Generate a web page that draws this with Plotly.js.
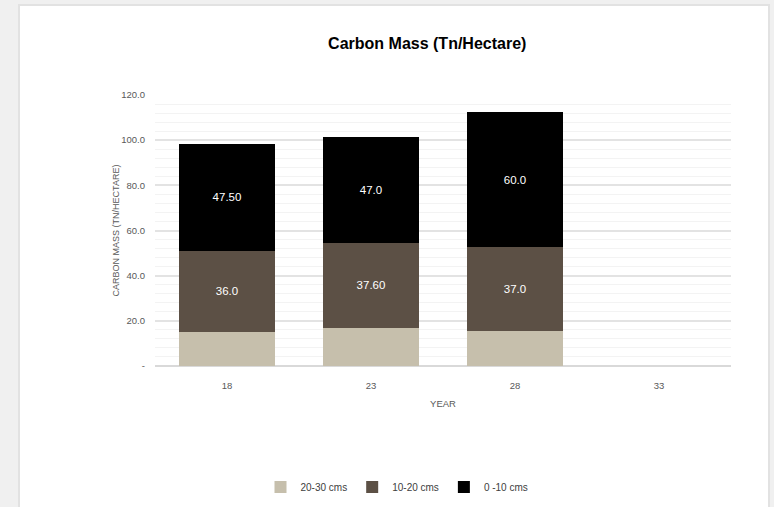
<!DOCTYPE html>
<html>
<head>
<meta charset="utf-8">
<script src="https://cdn.plot.ly/plotly-3.0.1.min.js"></script>
<style>html,body{margin:0;padding:0;background:#f0f0f0;}#chart{width:774px;height:507px;}</style>
</head>
<body>
<div id="chart"></div>
<script>
// Data
const years = ['18', '23', '28', '33'];
const depth20to30 = [15.0, 17.0, 15.5, null];
const depth10to20 = [36.0, 37.6, 37.0, null];
const depth0to10 = [47.5, 47.0, 60.0, null];
const labels10to20 = ['36.0', '37.60', '37.0', ''];
const labels0to10 = ['47.50', '47.0', '60.0', ''];
const seriesNames = ['20-30 cms', '10-20 cms', '0 -10 cms'];
const yTickVals = [0, 20, 40, 60, 80, 100, 120];
const yTickText = ['-', '20.0', '40.0', '60.0', '80.0', '100.0', '120.0'];

const SANS = '"Liberation Sans", Arial, sans-serif';

const traces = [
  {type: 'bar', x: years, y: depth20to30, name: seriesNames[0],
   marker: {color: '#c6bfac'}, hoverinfo: 'y'},
  {type: 'bar', x: years, y: depth10to20, name: seriesNames[1],
   marker: {color: '#5c5045'}, text: labels10to20, texttemplate: '%{text}',
   textposition: 'inside', insidetextanchor: 'middle', textangle: 0,
   constraintext: 'none', textfont: {color: '#ffffff', size: 11.5, family: SANS}},
  {type: 'bar', x: years, y: depth0to10, name: seriesNames[2],
   marker: {color: '#000000'}, text: labels0to10, texttemplate: '%{text}',
   textposition: 'inside', insidetextanchor: 'middle', textangle: 0,
   constraintext: 'none', textfont: {color: '#ffffff', size: 11.5, family: SANS}}
];

const plotH = 271, plotW = 576;
const layout = {
  width: 774, height: 507,
  margin: {l: 155, r: 43, t: 95, b: 141, autoexpand: false},
  paper_bgcolor: '#f0f0f0',
  plot_bgcolor: 'rgba(0,0,0,0)',
  barmode: 'stack',
  bargap: 0.333,
  font: {family: SANS, color: '#595959'},
  title: {text: '<b>Carbon Mass (Tn/Hectare)</b>', x: 0.552, xref: 'container',
          y: 1 - 43/507, yref: 'container', yanchor: 'middle',
          font: {family: SANS, size: 16, color: '#000000'}},
  xaxis: {type: 'category', showgrid: false, zeroline: false, automargin: false,
          showline: false, ticks: '', ticklabelstandoff: 12,
          tickfont: {size: 9.5, color: '#595959'},
          title: {text: 'YEAR', standoff: 10, font: {size: 9.5, color: '#595959'}}},
  yaxis: {range: [0, 120], tickvals: yTickVals, ticktext: yTickText, automargin: false,
          showgrid: true, gridcolor: '#e3e3e3', gridwidth: 1.5,
          minor: {dtick: 4, tick0: 0, showgrid: true, gridcolor: '#f3f3f3', gridwidth: 1},
          zeroline: true, zerolinecolor: '#d9d9d9', zerolinewidth: 1.5,
          showline: false, ticks: '', ticklabelstandoff: 9,
          tickfont: {size: 9.5, color: '#595959'},
          title: {text: 'CARBON MASS (TN/HECTARE)', standoff: 0,
                  font: {size: 9, color: '#595959', family: SANS}}},
  showlegend: true,
  legend: {orientation: 'h', traceorder: 'normal', x: (397-155)/plotW, xanchor: 'center',
           y: (366-487)/plotH, yanchor: 'middle', font: {size: 10, color: '#404040'},
           itemwidth: 30, bgcolor: 'rgba(0,0,0,0)'},
  shapes: [
    {type: 'rect', xref: 'paper', yref: 'paper', layer: 'below',
     x0: (19-155)/plotW, x1: (769-155)/plotW,
     y0: (366-520)/plotH, y1: 1 + (95-5)/plotH,
     fillcolor: '#ffffff', line: {color: '#e2e2e2', width: 2}}
  ]
};

Plotly.newPlot('chart', traces, layout, {displayModeBar: false, responsive: false});
</script>
</body>
</html>
